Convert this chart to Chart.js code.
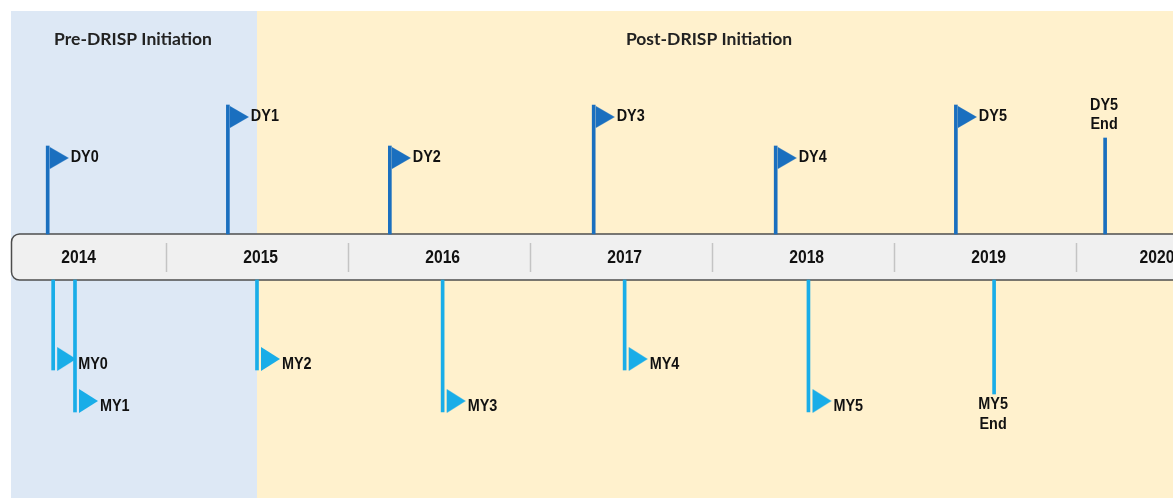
<!DOCTYPE html>
<html><head><meta charset="utf-8">
<script src="https://cdn.jsdelivr.net/npm/chart.js@4.4.1/dist/chart.umd.min.js"></script>
<style>html,body{margin:0;padding:0;background:#fff;overflow:hidden}#wrap{width:1173px;height:498px;position:relative}</style>
</head><body><div id="wrap"><canvas id="c"></canvas></div>
<script>
// ---- data ----
const years = [2014, 2015, 2016, 2017, 2018, 2019, 2020];
const phaseNames = ['Pre-DRISP Initiation', 'Post-DRISP Initiation'];
const drispStart = 2015.5;
const dyLabels = ['DY0', 'DY1', 'DY2', 'DY3', 'DY4', 'DY5'];
const dyDates = [2014.35, 2015.34, 2016.23, 2017.35, 2018.35, 2019.34];
const dyTiers = [1, 2, 1, 2, 1, 2];
const dyEndLabel = ['DY5', 'End'];
const dyEndDate = 2020.16;
const myLabels = ['MY0', 'MY1', 'MY2', 'MY3', 'MY4', 'MY5'];
const myDates = [2014.38, 2014.50, 2015.50, 2016.52, 2017.52, 2018.53];
const myTiers = [1, 2, 1, 2, 1, 2];
const myEndLabel = ['MY5', 'End'];
const myEndDate = 2019.55;

// ---- styles ----
const DY_COLOR = '#1a6fbf';
const MY_COLOR = '#19ade8';
const PRE_BG = '#dde8f5';
const POST_BG = '#fff1cd';
const BAND = 23;
const UP = {1: 111, 2: 152, end: 119};
const DOWN = {1: -113, 2: -155, end: -137};
const LABEL_FONT = 'bold 16px "Liberation Sans", Arial, sans-serif';
const LABEL_SX = 0.9;
const YEAR_FONT = 'bold 18px "Liberation Sans", Arial, sans-serif';
const YEAR_SX = 0.87;
const TITLE_FONT = 'bold 17.5px Lato, "Open Sans", sans-serif';

function flagCanvas(color, hangDown) {
  const c = document.createElement('canvas');
  c.width = 60; c.height = 60;
  const g = c.getContext('2d');
  g.fillStyle = color;
  g.beginPath();
  if (hangDown) {
    g.moveTo(32, 31); g.lineTo(51, 42); g.lineTo(32, 53);
  } else {
    g.moveTo(34, 7); g.lineTo(53, 19); g.lineTo(34, 31);
  }
  g.closePath(); g.fill();
  return c;
}

function sText(ctx, text, x, y, sx) {
  ctx.save(); ctx.translate(x, y); ctx.scale(sx, 1); ctx.fillText(text, 0, 0); ctx.restore();
}

const dyPoles = dyDates.map((d, i) => ({x: d, y: [BAND, UP[dyTiers[i]]]}));
dyPoles.push({x: dyEndDate, y: [BAND, UP.end]});
const myPoles = myDates.map((d, i) => ({x: d, y: [-BAND, DOWN[myTiers[i]]]}));
myPoles.push({x: myEndDate, y: [-BAND, DOWN.end]});
const dyFlags = dyDates.map((d, i) => ({x: d, y: UP[dyTiers[i]]}));
const myFlags = myDates.map((d, i) => ({x: d, y: DOWN[myTiers[i]]}));

const timelinePlugin = {
  id: 'timeline',
  beforeDatasetsDraw(chart) {
    const {ctx, chartArea: a, scales: {x, y}} = chart;
    const xs = x.getPixelForValue(drispStart);
    ctx.save();
    ctx.fillStyle = PRE_BG;
    ctx.fillRect(a.left, a.top, xs - a.left, a.bottom - a.top);
    ctx.fillStyle = POST_BG;
    ctx.fillRect(xs, a.top, a.right - xs, a.bottom - a.top);
    // titles
    ctx.font = TITLE_FONT; ctx.fillStyle = '#222';
    ctx.textAlign = 'center'; ctx.textBaseline = 'middle';
    const ty = y.getPixelForValue(218);
    ctx.fillText(phaseNames[0], (a.left + xs) / 2 - 1, ty);
    ctx.fillText(phaseNames[1], (xs + a.right) / 2 - 6, ty);
    // band
    const bt = y.getPixelForValue(BAND), bb = y.getPixelForValue(-BAND);
    ctx.beginPath();
    ctx.roundRect(a.left + 0.5, bt, a.right + 20 - a.left, bb - bt, 8);
    ctx.fillStyle = '#f0f0f0'; ctx.fill();
    ctx.lineWidth = 1.5; ctx.strokeStyle = '#4d4d4d'; ctx.stroke();
    // separators
    ctx.strokeStyle = '#c4c4c4'; ctx.lineWidth = 1.5;
    years.forEach(yr => {
      if (yr === years[0]) return;
      const px = Math.round(x.getPixelForValue(yr)) + 0.5;
      ctx.beginPath(); ctx.moveTo(px, bt + 9); ctx.lineTo(px, bb - 8); ctx.stroke();
    });
    // year labels
    ctx.font = YEAR_FONT; ctx.fillStyle = '#111';
    const cy = y.getPixelForValue(0);
    years.forEach(yr => {
      const px = Math.min(x.getPixelForValue(yr + 0.52), a.right - 16);
      sText(ctx, String(yr), px, cy + 1, YEAR_SX);
    });
    ctx.restore();
  },
  afterDatasetsDraw(chart) {
    const {ctx, scales: {x, y}} = chart;
    ctx.save();
    ctx.font = LABEL_FONT; ctx.fillStyle = '#111';
    ctx.textBaseline = 'middle'; ctx.textAlign = 'left';
    dyLabels.forEach((l, i) => {
      sText(ctx, l, x.getPixelForValue(dyDates[i]) + 23, y.getPixelForValue(UP[dyTiers[i]]) + 12, LABEL_SX);
    });
    myLabels.forEach((l, i) => {
      sText(ctx, l, x.getPixelForValue(myDates[i]) + 25, y.getPixelForValue(DOWN[myTiers[i]]) - 5, LABEL_SX);
    });
    ctx.textAlign = 'center';
    const dx = x.getPixelForValue(dyEndDate), dt = y.getPixelForValue(UP.end);
    sText(ctx, dyEndLabel[0], dx - 1, dt - 32, LABEL_SX);
    sText(ctx, dyEndLabel[1], dx - 1, dt - 13, LABEL_SX);
    const mx = x.getPixelForValue(myEndDate), mb = y.getPixelForValue(DOWN.end);
    sText(ctx, myEndLabel[0], mx - 1, mb + 11, LABEL_SX);
    sText(ctx, myEndLabel[1], mx - 1, mb + 31, LABEL_SX);
    ctx.restore();
  }
};

new Chart(document.getElementById('c'), {
  type: 'bar',
  data: {
    datasets: [
      {type: 'bar', label: 'DY', data: dyPoles, backgroundColor: DY_COLOR, barThickness: 3, grouped: false, borderWidth: 0, borderSkipped: false},
      {type: 'bar', label: 'MY', data: myPoles, backgroundColor: MY_COLOR, barThickness: 3, grouped: false, borderWidth: 0, borderSkipped: false},
      {type: 'scatter', label: 'DY flags', data: dyFlags, pointStyle: flagCanvas(DY_COLOR, true), pointRadius: 1, hoverRadius: 0},
      {type: 'scatter', label: 'MY flags', data: myFlags, pointStyle: flagCanvas(MY_COLOR, false), pointRadius: 1, hoverRadius: 0}
    ]
  },
  options: {
    responsive: true, maintainAspectRatio: false, animation: false, events: [],
    layout: {autoPadding: false, padding: {left: 11, top: 11, right: 0, bottom: 0}},
    plugins: {legend: {display: false}, tooltip: {enabled: false}},
    scales: {
      x: {type: 'linear', min: 2014.1484, max: 2020.533, offset: false, display: false},
      y: {type: 'linear', min: -241, max: 246, display: false}
    }
  },
  plugins: [timelinePlugin]
});
</script>
</body></html>
